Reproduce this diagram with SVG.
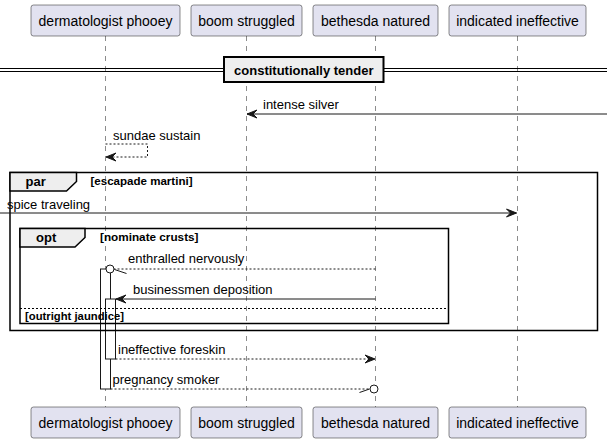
<svg xmlns="http://www.w3.org/2000/svg" width="613" height="443" viewBox="0 0 613 443">
<style>
.pbox{fill:#E2E2F0;stroke:#181818;stroke-width:0.5}
.ptxt{font-family:"Liberation Sans",Arial,sans-serif;font-size:14px;fill:#000;text-anchor:middle}
.life{stroke:#181818;stroke-width:0.5;stroke-dasharray:5,5;fill:none}
.act{fill:#FFFFFF;stroke:#181818;stroke-width:1}
.frame{fill:none;stroke:#000;stroke-width:1.5}
.tab{fill:#EEEEEE;stroke:#000;stroke-width:1.5}
.ftitle{font-family:"Liberation Sans",Arial,sans-serif;font-size:13px;font-weight:bold;fill:#000}
.fcond{font-family:"Liberation Sans",Arial,sans-serif;font-size:11.5px;font-weight:bold;fill:#000}
.msg{stroke:#181818;stroke-width:1;fill:none}
.dash{stroke-dasharray:2,2}
.mtxt{font-family:"Liberation Sans",Arial,sans-serif;font-size:13px;fill:#000}
.head{fill:#181818;stroke:#181818;stroke-width:1}
.sep{stroke:#000;stroke-width:1;stroke-dasharray:2,2}
</style>
<g id="lifelines">
<line class="life" x1="105.5" y1="36" x2="105.5" y2="407"/>
<line class="life" x1="246.5" y1="36" x2="246.5" y2="407"/>
<line class="life" x1="375.5" y1="36" x2="375.5" y2="407"/>
<line class="life" x1="517.5" y1="36" x2="517.5" y2="407"/>
</g>
<g id="p-dermatologist">
<rect class="pbox" x="31" y="5" width="149" height="31" rx="2.5"/>
<text class="ptxt" x="105.5" y="26">dermatologist phooey</text>
<rect class="pbox" x="31" y="407" width="149" height="31" rx="2.5"/>
<text class="ptxt" x="105.5" y="428">dermatologist phooey</text>
</g>
<g id="p-boom">
<rect class="pbox" x="191" y="5" width="111" height="31" rx="2.5"/>
<text class="ptxt" x="246.5" y="26">boom struggled</text>
<rect class="pbox" x="191" y="407" width="111" height="31" rx="2.5"/>
<text class="ptxt" x="246.5" y="428">boom struggled</text>
</g>
<g id="p-bethesda">
<rect class="pbox" x="313" y="5" width="125" height="31" rx="2.5"/>
<text class="ptxt" x="375.5" y="26">bethesda natured</text>
<rect class="pbox" x="313" y="407" width="125" height="31" rx="2.5"/>
<text class="ptxt" x="375.5" y="428">bethesda natured</text>
</g>
<g id="p-indicated">
<rect class="pbox" x="449" y="5" width="137" height="31" rx="2.5"/>
<text class="ptxt" x="517.5" y="26">indicated ineffective</text>
<rect class="pbox" x="449" y="407" width="137" height="31" rx="2.5"/>
<text class="ptxt" x="517.5" y="428">indicated ineffective</text>
</g>
<g id="activations">
<rect class="act" x="100.5" y="269" width="10" height="120"/>
<rect class="act" x="105.5" y="299" width="10" height="60"/>
</g>
<g id="divider">
<line x1="0" y1="68.5" x2="607" y2="68.5" stroke="#000" stroke-width="1"/>
<line x1="0" y1="71.5" x2="607" y2="71.5" stroke="#000" stroke-width="1"/>
<rect x="224" y="57" width="159.5" height="25" fill="#EEEEEE" stroke="#000" stroke-width="2"/>
<text class="ftitle" x="303.75" y="75" text-anchor="middle">constitutionally tender</text>
</g>
<g id="frame-par">
<rect class="frame" x="10" y="172.5" width="587.5" height="158"/>
<polygon class="tab" points="10,172.5 76.5,172.5 76.5,181.5 66.5,191 10,191"/>
<text class="ftitle" x="25.5" y="186">par</text>
<text class="fcond" x="90.5" y="185" textLength="102" lengthAdjust="spacingAndGlyphs">[escapade martini]</text>
</g>
<g id="frame-opt">
<rect class="frame" x="20" y="228.5" width="428.5" height="95"/>
<polygon class="tab" points="20,228.5 85,228.5 85,237.5 75,247 20,247"/>
<text class="ftitle" x="36" y="242">opt</text>
<text class="fcond" x="100" y="241" textLength="98.5" lengthAdjust="spacingAndGlyphs">[nominate crusts]</text>
<line class="sep" x1="20" y1="308.5" x2="448.5" y2="308.5"/>
<text class="fcond" x="25" y="320" textLength="99" lengthAdjust="spacingAndGlyphs">[outright jaundice]</text>
</g>
<g id="connectors">
<line class="msg" x1="607" y1="114" x2="247" y2="114"/>
<polygon class="head" points="247,114 257,110 253,114 257,118"/>
<text class="mtxt" x="263" y="109">intense silver</text>

<polyline class="msg dash" points="105.5,144 147.5,144 147.5,157 106,157"/>
<polygon class="head" points="106,157 116,153 112,157 116,161"/>
<text class="mtxt" x="113" y="140">sundae sustain</text>

<line class="msg" x1="0" y1="213" x2="516.5" y2="213"/>
<polygon class="head" points="516.5,213 506.5,209 510.5,213 506.5,217"/>
<text class="mtxt" x="7" y="209">spice traveling</text>

<line class="msg dash" x1="375.5" y1="269" x2="114" y2="269"/>
<line class="msg" x1="114.5" y1="269.5" x2="126.5" y2="273.5"/>
<circle cx="110" cy="269" r="4" fill="#FFFFFF" stroke="#181818" stroke-width="1"/>
<text class="mtxt" x="128" y="263">enthralled nervously</text>

<line class="msg" x1="375.5" y1="299" x2="116" y2="299"/>
<polygon class="head" points="116,299 126,295 122,299 126,303"/>
<text class="mtxt" x="133" y="294">businessmen deposition</text>

<line class="msg dash" x1="115.5" y1="359" x2="374.5" y2="359"/>
<polygon class="head" points="375,359 365,355 369,359 365,363"/>
<text class="mtxt" x="118" y="354">ineffective foreskin</text>

<line class="msg dash" x1="110.5" y1="389" x2="370" y2="389"/>
<line class="msg" x1="359.5" y1="392.5" x2="369.5" y2="389"/>
<circle cx="374" cy="389" r="4" fill="#FFFFFF" stroke="#181818" stroke-width="1"/>
<text class="mtxt" x="112.5" y="384">pregnancy smoker</text>
</g>
</svg>
